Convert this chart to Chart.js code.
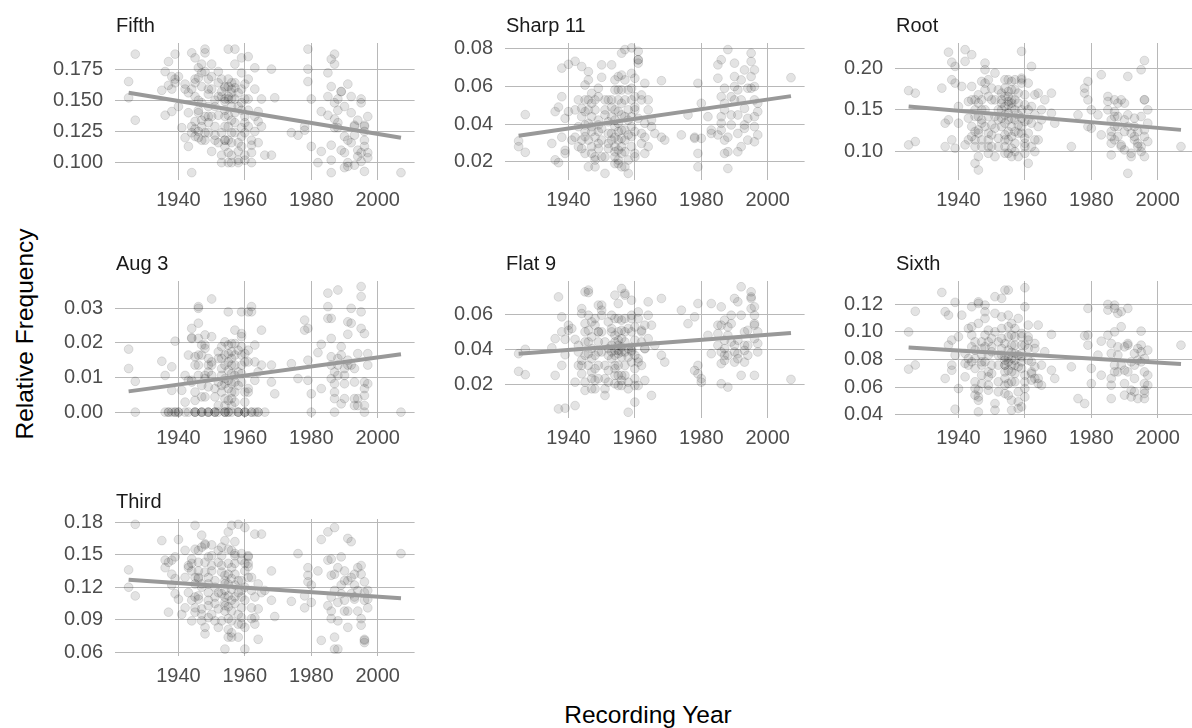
<!DOCTYPE html>
<html>
<head>
<meta charset="utf-8">
<script src="https://cdn.jsdelivr.net/npm/chart.js@4.4.0/dist/chart.umd.min.js"></script>
<style>
  body { margin: 0; width: 1192px; height: 728px; overflow: hidden; background: #fff; position: relative;
         font-family: "Liberation Sans", Arial, sans-serif; }
  canvas { position: absolute; }
  .axis-title { position: absolute; font-size: 24.5px; line-height: 28px; color: #000; white-space: nowrap; text-align: center; }
  #xTitle { left: 448px; top: 701px; width: 400px; }
  #yTitle { left: -125px; top: 320px; width: 300px; transform: rotate(-90deg); }
</style>
</head>
<body>
<div class="axis-title" id="xTitle">Recording Year</div>
<div class="axis-title" id="yTitle">Relative Frequency</div>
<script>
// panel names, in facet order
const panels = ['Fifth', 'Sharp 11', 'Root', 'Aug 3', 'Flat 9', 'Sixth', 'Third'];

// recording year of every tune (shared by all panels)
const years = [
  1925, 1925, 1927, 1927,
  1935, 1936, 1936, 1937, 1937, 1938, 1938, 1938, 1939, 1939, 1939,
  1940, 1940, 1941, 1942, 1942, 1942, 1943, 1943, 1943,
  1944, 1944, 1944, 1944, 1944, 1945, 1945, 1945, 1945, 1945, 1945, 1945,
  1946, 1946, 1946, 1946, 1946, 1946, 1946, 1947, 1947, 1947, 1947, 1947, 1947, 1947,
  1948, 1948, 1948, 1948, 1948, 1948, 1949, 1949, 1949, 1949, 1949, 1949, 1949,
  1950, 1950, 1950, 1950, 1950, 1951, 1951, 1951, 1951, 1951, 1952, 1952, 1952, 1952, 1952,
  1953, 1953, 1953, 1953, 1953, 1953, 1954, 1954, 1954, 1954, 1954, 1954, 1954, 1954, 1954, 1954,
  1955, 1955, 1955, 1955, 1955, 1955, 1955, 1955, 1955, 1955,
  1956, 1956, 1956, 1956, 1956, 1956, 1956, 1956, 1956, 1956,
  1957, 1957, 1957, 1957, 1957, 1957, 1957, 1957, 1958, 1958, 1958, 1958, 1958, 1958,
  1959, 1959, 1959, 1959, 1959, 1959, 1959, 1959, 1960, 1960, 1960, 1960, 1960, 1960, 1960,
  1961, 1961, 1961, 1961, 1961, 1962, 1962, 1962, 1962, 1963, 1963, 1963, 1963,
  1964, 1964, 1964, 1965, 1965, 1966, 1968, 1968, 1969,
  1974, 1976, 1978, 1978, 1979, 1979, 1979, 1980, 1980, 1982, 1983, 1983,
  1985, 1985, 1985, 1986, 1986, 1986, 1986, 1986, 1987, 1987, 1987, 1987, 1987,
  1988, 1988, 1988, 1988, 1989, 1989, 1989, 1990, 1990, 1990, 1990,
  1991, 1991, 1991, 1991, 1992, 1992, 1992, 1993, 1993, 1993, 1993, 1994, 1994, 1994,
  1995, 1995, 1995, 1995, 1996, 1996, 1996, 1996, 1996, 1996, 1997, 1997, 1997,
  2007
];

const fifth = [
  0.165, 0.152, 0.187, 0.134,
  0.158, 0.173, 0.138, 0.181, 0.162, 0.159, 0.169, 0.141, 0.187, 0.167, 0.164,
  0.169, 0.145, 0.128, 0.163, 0.120, 0.159, 0.113, 0.156, 0.140,
  0.092, 0.188, 0.129, 0.124, 0.159, 0.133, 0.164, 0.153, 0.184, 0.127, 0.121, 0.167,
  0.176, 0.150, 0.142, 0.140, 0.125, 0.120, 0.168, 0.129, 0.118, 0.172, 0.161, 0.134, 0.148, 0.179,
  0.191, 0.188, 0.173, 0.137, 0.124, 0.118, 0.155, 0.167, 0.145, 0.124, 0.159, 0.137, 0.132,
  0.179, 0.109, 0.137, 0.159, 0.169, 0.118, 0.150, 0.145, 0.129, 0.122, 0.164, 0.138, 0.173, 0.116, 0.153,
  0.157, 0.153, 0.124, 0.106, 0.100, 0.167, 0.129, 0.118, 0.142, 0.149, 0.137, 0.161, 0.118, 0.160, 0.151, 0.113,
  0.191, 0.167, 0.161, 0.153, 0.151, 0.138, 0.129, 0.118, 0.108, 0.100,
  0.164, 0.159, 0.151, 0.145, 0.134, 0.124, 0.116, 0.106, 0.100, 0.156,
  0.191, 0.179, 0.160, 0.151, 0.164, 0.140, 0.132, 0.124, 0.116, 0.109, 0.102, 0.100, 0.156, 0.145,
  0.184, 0.172, 0.159, 0.148, 0.142, 0.128, 0.121, 0.113, 0.106, 0.102, 0.151, 0.163, 0.137, 0.132, 0.124,
  0.185, 0.167, 0.151, 0.142, 0.129, 0.118, 0.108, 0.100, 0.114, 0.159, 0.176, 0.137, 0.125,
  0.116, 0.133, 0.141, 0.151, 0.129, 0.106, 0.106, 0.175, 0.152,
  0.124, 0.122, 0.126, 0.129, 0.191, 0.175, 0.165, 0.151, 0.113, 0.100, 0.141, 0.109,
  0.172, 0.153, 0.138, 0.114, 0.102, 0.092, 0.161, 0.183, 0.187, 0.179, 0.148, 0.128, 0.135,
  0.142, 0.132, 0.128, 0.151, 0.157, 0.110, 0.157, 0.145, 0.121, 0.108, 0.096,
  0.100, 0.097, 0.118, 0.163, 0.140, 0.116, 0.153, 0.122, 0.130, 0.098, 0.129, 0.110, 0.105, 0.134,
  0.151, 0.148, 0.108, 0.101, 0.093, 0.129, 0.113, 0.130, 0.125, 0.118, 0.137, 0.108, 0.104,
  0.092
];

const sharp11 = [
  0.028, 0.031, 0.045, 0.025,
  0.0297, 0.0466, 0.021, 0.0195, 0.049, 0.0697, 0.033, 0.0545, 0.043, 0.0244, 0.026,
  0.0717, 0.0466, 0.0315, 0.0733, 0.0475, 0.033, 0.0386, 0.0528, 0.028,
  0.0315, 0.0483, 0.027, 0.0705, 0.0439, 0.036, 0.0607, 0.0395, 0.0244, 0.0528, 0.0333, 0.0466,
  0.0678, 0.0634, 0.0173, 0.0404, 0.0528, 0.0475, 0.0315, 0.0244, 0.0439, 0.036, 0.0563, 0.028, 0.051, 0.0386,
  0.0173, 0.0528, 0.0209, 0.0475, 0.0226, 0.033, 0.0395, 0.027, 0.0545, 0.0421, 0.036, 0.0297, 0.059,
  0.0648, 0.0714, 0.0377, 0.0315, 0.0226, 0.0475, 0.0528, 0.0448, 0.0138, 0.0226, 0.035, 0.0297, 0.0528, 0.0412, 0.027,
  0.0714, 0.0528, 0.0439, 0.049, 0.035, 0.0315, 0.0253, 0.0226, 0.019, 0.0581, 0.0386, 0.028, 0.0421, 0.0475, 0.0634, 0.033,
  0.0581, 0.0528, 0.0466, 0.0404, 0.036, 0.0315, 0.0262, 0.019, 0.0652, 0.0209,
  0.0776, 0.066, 0.051, 0.0448, 0.0368, 0.028, 0.0244, 0.0173, 0.0581, 0.0324,
  0.0795, 0.0634, 0.0528, 0.0439, 0.0368, 0.0315, 0.0253, 0.0173, 0.0138, 0.0581, 0.0421, 0.0209, 0.0475, 0.0342,
  0.0804, 0.0669, 0.059, 0.0528, 0.0439, 0.0386, 0.0333, 0.028, 0.0244, 0.0643, 0.0545, 0.049, 0.036, 0.0226, 0.0475,
  0.0741, 0.0786, 0.0741, 0.0723, 0.043, 0.035, 0.0297, 0.0528, 0.0554, 0.0244, 0.0616, 0.033, 0.0404,
  0.0528, 0.0475, 0.028, 0.0386, 0.0421, 0.035, 0.063, 0.033, 0.0315,
  0.0342, 0.0448, 0.033, 0.0324, 0.0244, 0.0173, 0.0616, 0.051, 0.0324, 0.0439, 0.0368, 0.035,
  0.0714, 0.0342, 0.0643, 0.0439, 0.0368, 0.0741, 0.0545, 0.0404, 0.0315, 0.0475, 0.051, 0.059, 0.0244,
  0.033, 0.0253, 0.0164, 0.0795, 0.0545, 0.0448, 0.0395, 0.0652, 0.0723, 0.0528, 0.0599,
  0.0581, 0.035, 0.0253, 0.0448, 0.0634, 0.0528, 0.028, 0.0377, 0.0483, 0.0687, 0.0395, 0.059, 0.043, 0.0315,
  0.0776, 0.0732, 0.0652, 0.059, 0.0687, 0.0386, 0.0306, 0.0599, 0.0528, 0.0439, 0.051, 0.0342, 0.0466,
  0.0646
];

const root = [
  0.173, 0.108, 0.170, 0.112,
  0.176, 0.134, 0.106, 0.219, 0.138, 0.207, 0.114, 0.186, 0.202, 0.182, 0.104,
  0.154, 0.134, 0.178, 0.108, 0.222, 0.208, 0.160, 0.114, 0.140,
  0.216, 0.178, 0.162, 0.130, 0.118, 0.106, 0.086, 0.142, 0.162, 0.124, 0.150, 0.114,
  0.168, 0.158, 0.126, 0.122, 0.094, 0.078, 0.142, 0.184, 0.114, 0.134, 0.150, 0.106, 0.162, 0.138,
  0.206, 0.182, 0.174, 0.198, 0.150, 0.130, 0.114, 0.098, 0.142, 0.166, 0.122, 0.186, 0.106,
  0.176, 0.162, 0.132, 0.120, 0.106, 0.194, 0.142, 0.162, 0.094, 0.128, 0.116, 0.150, 0.174, 0.138, 0.106,
  0.170, 0.162, 0.158, 0.150, 0.140, 0.130, 0.120, 0.106, 0.098, 0.186, 0.176, 0.166, 0.134, 0.114, 0.154, 0.144,
  0.186, 0.166, 0.160, 0.156, 0.146, 0.138, 0.124, 0.114, 0.098, 0.172,
  0.184, 0.162, 0.158, 0.152, 0.140, 0.130, 0.118, 0.104, 0.094, 0.174,
  0.186, 0.174, 0.162, 0.150, 0.138, 0.124, 0.110, 0.100, 0.094, 0.170, 0.158, 0.144, 0.122, 0.132,
  0.220, 0.186, 0.188, 0.182, 0.150, 0.140, 0.130, 0.122, 0.110, 0.106, 0.168, 0.156, 0.098, 0.116, 0.136,
  0.182, 0.150, 0.138, 0.122, 0.086, 0.202, 0.154, 0.134, 0.106, 0.100, 0.168, 0.114, 0.144,
  0.170, 0.114, 0.130, 0.138, 0.150, 0.162, 0.170, 0.146, 0.134,
  0.106, 0.144, 0.170, 0.176, 0.184, 0.162, 0.130, 0.150, 0.128, 0.144, 0.120, 0.192,
  0.166, 0.160, 0.150, 0.138, 0.124, 0.118, 0.110, 0.096, 0.142, 0.162, 0.130, 0.114, 0.148,
  0.158, 0.142, 0.130, 0.118, 0.108, 0.162, 0.106, 0.158, 0.138, 0.124, 0.102,
  0.074, 0.144, 0.130, 0.190, 0.122, 0.094, 0.098, 0.140, 0.114, 0.130, 0.118, 0.124, 0.110, 0.106,
  0.198, 0.142, 0.106, 0.100, 0.094, 0.209, 0.162, 0.118, 0.162, 0.126, 0.150, 0.134, 0.112,
  0.106
];

const aug3 = [
  0.0182, 0.0126, 0.0089, 0,
  0.0147, 0.0106, 0, 0, 0, 0.0131, 0.0063, 0, 0.0205, 0, 0,
  0, 0, 0.0063, 0, 0.0106, 0.0029, 0.0165, 0.0092, 0,
  0.0242, 0.0213, 0.0215, 0.0092, 0.0087, 0.0034, 0, 0, 0.0136, 0.0058, 0, 0.016,
  0.030, 0.0305, 0.0257, 0.0165, 0.0213, 0.0136, 0.0106, 0.0077, 0.0044, 0, 0, 0, 0.0194, 0.0165,
  0.0194, 0.0184, 0.0223, 0.0106, 0.0097, 0.0044, 0, 0, 0, 0.0073, 0.0136, 0.0116, 0.0155,
  0.0327, 0.0218, 0.0145, 0.0136, 0.0106, 0, 0, 0, 0.0068, 0.0044, 0.0174, 0.0087, 0, 0.0019, 0.0155,
  0.0155, 0.0189, 0.0126, 0.0106, 0.0077, 0.0058, 0.0039, 0.0019, 0, 0, 0, 0.0136, 0.0165, 0.0097, 0.0203, 0.0082,
  0.029, 0.0194, 0.0145, 0.0121, 0.0092, 0.0068, 0.0034, 0, 0, 0.0169,
  0.0198, 0.0174, 0.0136, 0.0111, 0.0082, 0.0058, 0.0039, 0.0019, 0, 0.0155,
  0.0198, 0.0237, 0.0165, 0.0136, 0.0106, 0.0087, 0.0058, 0.0029, 0, 0, 0, 0.0179, 0.0077, 0.0116,
  0.029, 0.0227, 0.0218, 0.0189, 0.0165, 0.0136, 0.0111, 0.0087, 0.0058, 0.0029, 0, 0, 0, 0.0169, 0.0145,
  0.029, 0.0179, 0.0145, 0.0058, 0.0068, 0, 0, 0.0305, 0.029, 0.0194, 0.0145, 0.0092, 0,
  0, 0.0116, 0, 0.0237, 0.0136, 0, 0.0087, 0.0136, 0.0053,
  0.014, 0.0097, 0.0237, 0.0266, 0.0242, 0.015, 0.0092, 0.0053, 0, 0.0172, 0.0196, 0.0068,
  0.0305, 0.0344, 0.0271, 0.0271, 0.0213, 0.016, 0.0136, 0.0097, 0.0082, 0.0058, 0.0039, 0, 0.0116,
  0.0353, 0.0106, 0.0136, 0.0155, 0.0189, 0.0165, 0.0024, 0.0039, 0.0082, 0.0126, 0.0106,
  0.0225, 0.0261, 0.015, 0.0136, 0.030, 0.0257, 0.0136, 0.0126, 0.0039, 0.0019, 0.0087, 0.0169, 0.0019, 0.0039,
  0.0363, 0.0334, 0.029, 0.0242, 0.0227, 0.0087, 0.0068, 0.0048, 0.0019, 0, 0.0082, 0.0136, 0.0169,
  0
];

const flat9 = [
  0.0274, 0.0375, 0.040, 0.0255,
  0.0408, 0.0461, 0.0251, 0.0059, 0.070, 0.0308, 0.0586, 0.050, 0.0457, 0.0369, 0.0063,
  0.0509, 0.0538, 0.0519, 0.0457, 0.0078, 0.0212, 0.0385, 0.0308, 0.0423,
  0.0605, 0.0633, 0.0337, 0.0308, 0.026, 0.0729, 0.0212, 0.0366, 0.050, 0.0442, 0.0547, 0.0165,
  0.0509, 0.0595, 0.0739, 0.0725, 0.0442, 0.0375, 0.0308, 0.0232, 0.0174, 0.027, 0.0471, 0.0346, 0.0557, 0.0404,
  0.0576, 0.0538, 0.0366, 0.0174, 0.0222, 0.0289, 0.0442, 0.050, 0.0232, 0.0385, 0.0308, 0.0653, 0.050,
  0.0653, 0.0624, 0.050, 0.0595, 0.0385, 0.0232, 0.0136, 0.0308, 0.0174, 0.0442, 0.0557, 0.0366, 0.0404, 0.0212, 0.0279,
  0.0595, 0.050, 0.0519, 0.0423, 0.0385, 0.0346, 0.0308, 0.0251, 0.071, 0.048, 0.0203, 0.0366, 0.0576, 0.0289, 0.0442, 0.0394,
  0.0662, 0.0576, 0.050, 0.0423, 0.0394, 0.0375, 0.0308, 0.0251, 0.0193, 0.0452,
  0.0748, 0.0567, 0.0509, 0.0413, 0.0385, 0.0356, 0.0251, 0.0222, 0.0193, 0.0461,
  0.072, 0.071, 0.0576, 0.050, 0.0442, 0.0385, 0.0308, 0.0251, 0.0212, 0.0174, 0.0404, 0.004, 0.0519, 0.0356,
  0.0681, 0.0595, 0.0576, 0.050, 0.0413, 0.0394, 0.0385, 0.0327, 0.0289, 0.0232, 0.0098, 0.0528, 0.0366, 0.0452, 0.0193,
  0.0193, 0.0327, 0.0346, 0.0614, 0.0576, 0.0509, 0.050, 0.0442, 0.0308, 0.0222, 0.0404, 0.0538, 0.0404,
  0.0461, 0.0672, 0.0595, 0.0136, 0.0538, 0.0423, 0.0691, 0.0366, 0.0327,
  0.0624, 0.0547, 0.0279, 0.0586, 0.0308, 0.0662, 0.026, 0.0232, 0.0212, 0.048, 0.0662, 0.0375,
  0.0538, 0.049, 0.0423, 0.0385, 0.0318, 0.0203, 0.0538, 0.0643, 0.0567, 0.0404, 0.0337, 0.0366, 0.0452,
  0.048, 0.0184, 0.0366, 0.0528, 0.0547, 0.0595, 0.0442, 0.0423, 0.0691, 0.0385, 0.0327,
  0.0452, 0.0375, 0.0346, 0.0672, 0.0251, 0.0758, 0.0595, 0.050, 0.0327, 0.0394, 0.0423, 0.0423, 0.0366, 0.0509,
  0.0729, 0.070, 0.0691, 0.0633, 0.0538, 0.0547, 0.0251, 0.0461, 0.0643, 0.0595, 0.0385, 0.050, 0.0433,
  0.0228
];

const sixth = [
  0.073, 0.100, 0.115, 0.076,
  0.1287, 0.1147, 0.0662, 0.1122, 0.0904, 0.0941, 0.0759, 0.0722, 0.1215, 0.0439, 0.0832,
  0.0589, 0.0965, 0.1122, 0.0844, 0.0674, 0.0771, 0.0807, 0.0759, 0.1025,
  0.1038, 0.0977, 0.0892, 0.0783, 0.1183, 0.0735, 0.0638, 0.0807, 0.0589, 0.0541, 0.0868, 0.0928,
  0.0577, 0.0528, 0.0504, 0.0419, 0.1219, 0.1207, 0.1062, 0.0928, 0.0832, 0.0759, 0.0686, 0.0625, 0.088, 0.0783,
  0.1147, 0.1195, 0.1098, 0.0977, 0.0892, 0.0783, 0.071, 0.0613, 0.0577, 0.0832, 0.1013, 0.0674, 0.0928,
  0.0953, 0.0892, 0.0856, 0.0759, 0.0698, 0.048, 0.0432, 0.1256, 0.1135, 0.1001, 0.0638, 0.0832, 0.0565, 0.0759, 0.0928,
  0.1244, 0.111, 0.1025, 0.0953, 0.088, 0.0832, 0.0795, 0.0759, 0.071, 0.0662, 0.0613, 0.0553, 0.1304, 0.0916, 0.0819, 0.0759,
  0.1304, 0.1122, 0.1038, 0.0965, 0.0868, 0.0819, 0.0783, 0.0722, 0.0625, 0.0541,
  0.1062, 0.0977, 0.0904, 0.0851, 0.0807, 0.0759, 0.071, 0.0638, 0.0504, 0.0432,
  0.1025, 0.0965, 0.0904, 0.0844, 0.0795, 0.0759, 0.0698, 0.0638, 0.0565, 0.0492, 0.0444, 0.1098, 0.0747, 0.0832,
  0.0989, 0.0965, 0.0456, 0.0904, 0.0844, 0.0819, 0.0783, 0.0735, 0.0686, 0.0638, 0.0589, 0.1321, 0.1183, 0.0528, 0.0904,
  0.088, 0.0965, 0.105, 0.0941, 0.0795, 0.0783, 0.0698, 0.065, 0.071, 0.0916, 0.088, 0.0747, 0.0662,
  0.105, 0.0662, 0.0625, 0.0613, 0.0759, 0.0856, 0.0982, 0.0722, 0.0662,
  0.0747, 0.0516, 0.0972, 0.048, 0.1171, 0.0977, 0.0904, 0.0735, 0.0625, 0.0832, 0.0933, 0.0686,
  0.12, 0.1159, 0.0977, 0.0916, 0.0662, 0.0844, 0.0613, 0.0516, 0.0759, 0.1195, 0.1171, 0.1001, 0.071,
  0.0892, 0.0832, 0.1135, 0.071, 0.1147, 0.0759, 0.1038, 0.0892, 0.0722, 0.0625, 0.0541,
  0.0904, 0.0916, 0.071, 0.1171, 0.0783, 0.0577, 0.0528, 0.0844, 0.0759, 0.0662, 0.0565, 0.0795, 0.0516, 0.088,
  0.1006, 0.0904, 0.0856, 0.0783, 0.071, 0.0625, 0.0553, 0.0516, 0.0577, 0.0807, 0.0686, 0.0868, 0.0613,
  0.0904
];

const third = [
  0.136, 0.120, 0.178, 0.112,
  0.163, 0.145, 0.138, 0.143, 0.097, 0.145, 0.132, 0.122, 0.114, 0.148, 0.128,
  0.164, 0.109, 0.095, 0.129, 0.154, 0.101, 0.115, 0.138, 0.140,
  0.089, 0.142, 0.146, 0.135, 0.108, 0.101, 0.097, 0.111, 0.123, 0.129, 0.155, 0.177,
  0.154, 0.143, 0.135, 0.129, 0.128, 0.112, 0.109, 0.100, 0.089, 0.095, 0.168, 0.120, 0.157, 0.123,
  0.083, 0.077, 0.160, 0.159, 0.143, 0.134, 0.123, 0.115, 0.108, 0.103, 0.092, 0.129, 0.148,
  0.095, 0.140, 0.149, 0.135, 0.159, 0.111, 0.105, 0.120, 0.089, 0.126, 0.115, 0.100, 0.143, 0.083, 0.154,
  0.089, 0.114, 0.140, 0.157, 0.149, 0.134, 0.126, 0.106, 0.098, 0.123, 0.131, 0.117, 0.063, 0.111, 0.163, 0.103,
  0.171, 0.155, 0.142, 0.132, 0.123, 0.112, 0.102, 0.091, 0.081, 0.074,
  0.177, 0.154, 0.138, 0.128, 0.118, 0.108, 0.098, 0.089, 0.078, 0.074,
  0.149, 0.151, 0.162, 0.142, 0.132, 0.122, 0.111, 0.105, 0.095, 0.086, 0.074, 0.178, 0.115, 0.126,
  0.151, 0.145, 0.126, 0.117, 0.111, 0.101, 0.092, 0.086, 0.083, 0.063, 0.135, 0.142, 0.120, 0.108, 0.175,
  0.148, 0.139, 0.129, 0.142, 0.149, 0.129, 0.091, 0.117, 0.101, 0.092, 0.111, 0.086, 0.169,
  0.123, 0.100, 0.072, 0.169, 0.115, 0.117, 0.135, 0.108, 0.093,
  0.107, 0.151, 0.112, 0.101, 0.138, 0.131, 0.125, 0.106, 0.122, 0.135, 0.164, 0.071,
  0.171, 0.145, 0.103, 0.098, 0.091, 0.146, 0.131, 0.111, 0.074, 0.063, 0.132, 0.117, 0.175,
  0.138, 0.089, 0.106, 0.063, 0.114, 0.148, 0.122, 0.108, 0.126, 0.098, 0.135,
  0.083, 0.165, 0.098, 0.126, 0.129, 0.114, 0.162, 0.111, 0.122, 0.132, 0.109, 0.138, 0.098, 0.117,
  0.140, 0.132, 0.091, 0.085, 0.072, 0.071, 0.069, 0.125, 0.115, 0.108, 0.101, 0.117, 0.109,
  0.151
];

const values = [fifth, sharp11, root, aug3, flat9, sixth, third];

// linear trend, read at the first and last recording year
const fitYears = [1925, 2007];
const fitStart = [0.156, 0.0338, 0.154, 0.0060, 0.0375, 0.0887, 0.1268];
const fitEnd   = [0.120, 0.0548, 0.126, 0.0167, 0.0494, 0.0768, 0.1098];

// axis ticks and limits
const xTicks = [1940, 1960, 1980, 2000];
const yTicks = [
  [0.100, 0.125, 0.150, 0.175],
  [0.02, 0.04, 0.06, 0.08],
  [0.10, 0.15, 0.20],
  [0.00, 0.01, 0.02, 0.03],
  [0.02, 0.04, 0.06],
  [0.04, 0.06, 0.08, 0.10, 0.12],
  [0.06, 0.09, 0.12, 0.15, 0.18]
];
const yDecimals = [3, 2, 2, 2, 2, 2, 2];
const yMin = [0.0861, 0.0103, 0.066, -0.0017, 0.0007, 0.0375, 0.0566];
const yMax = [0.1959, 0.083, 0.230, 0.0379, 0.0791, 0.137, 0.1829];
const X_MIN = 1920.9, X_MAX = 2011.1;

// layout
const FONT = '"Liberation Sans", Arial, sans-serif';
const GRID = '#b8b8b8';
const PLOT_W = 305, PLOT_H = 137;
const AXIS_W = 80, TOP_PAD = 40, AXIS_H = 45;
const colLeft = [115, 505, 895];
const rowTop = [43, 281, 519];

Chart.defaults.font.family = FONT;

// facet strip label, left aligned over the panel
const stripTitle = {
  id: 'stripTitle',
  afterDraw(chart, args, opts) {
    const { ctx, chartArea } = chart;
    ctx.save();
    ctx.font = '20px ' + FONT;
    ctx.fillStyle = '#1a1a1a';
    ctx.textAlign = 'left';
    ctx.textBaseline = 'alphabetic';
    ctx.fillText(opts.text, chartArea.left + 1, chartArea.top - 11.5);
    ctx.restore();
  }
};

panels.forEach((name, i) => {
  const c = document.createElement('canvas');
  c.width = AXIS_W + PLOT_W;
  c.height = TOP_PAD + PLOT_H + AXIS_H;
  c.style.left = (colLeft[i % 3] - AXIS_W) + 'px';
  c.style.top = (rowTop[Math.floor(i / 3)] - TOP_PAD) + 'px';
  document.body.appendChild(c);

  const points = years.map((yr, k) => ({ x: yr, y: values[i][k] }));

  new Chart(c, {
    type: 'scatter',
    data: {
      datasets: [
        {
          data: points,
          backgroundColor: 'rgba(0,0,0,0.11)',
          borderColor: 'rgba(0,0,0,0.11)',
          borderWidth: 1,
          pointRadius: 4.4,
          order: 2
        },
        {
          data: [{ x: fitYears[0], y: fitStart[i] }, { x: fitYears[1], y: fitEnd[i] }],
          showLine: true,
          borderColor: '#999999',
          borderWidth: 4,
          pointRadius: 0,
          order: 1
        }
      ]
    },
    options: {
      responsive: false,
      animation: false,
      events: [],
      layout: { padding: { top: TOP_PAD, left: 0, right: 0, bottom: 0 } },
      plugins: {
        legend: { display: false },
        tooltip: { enabled: false },
        stripTitle: { text: name }
      },
      scales: {
        x: {
          type: 'linear',
          min: X_MIN,
          max: X_MAX,
          afterBuildTicks: s => { s.ticks = xTicks.map(v => ({ value: v })); },
          afterFit: s => { s.height = AXIS_H; },
          grid: { color: GRID, lineWidth: 1, drawTicks: false },
          border: { display: false },
          ticks: {
            padding: 8,
            color: '#4d4d4d',
            font: { size: 20 },
            maxRotation: 0,
            callback: v => String(v)
          }
        },
        y: {
          type: 'linear',
          min: yMin[i],
          max: yMax[i],
          afterBuildTicks: s => { s.ticks = yTicks[i].map(v => ({ value: v })); },
          afterFit: s => { s.width = AXIS_W; },
          grid: { color: GRID, lineWidth: 1, drawTicks: false },
          border: { display: false },
          ticks: {
            padding: 12,
            color: '#4d4d4d',
            font: { size: 20 },
            callback: v => v.toFixed(yDecimals[i])
          }
        }
      }
    },
    plugins: [stripTitle]
  });
});
</script>
</body>
</html>
